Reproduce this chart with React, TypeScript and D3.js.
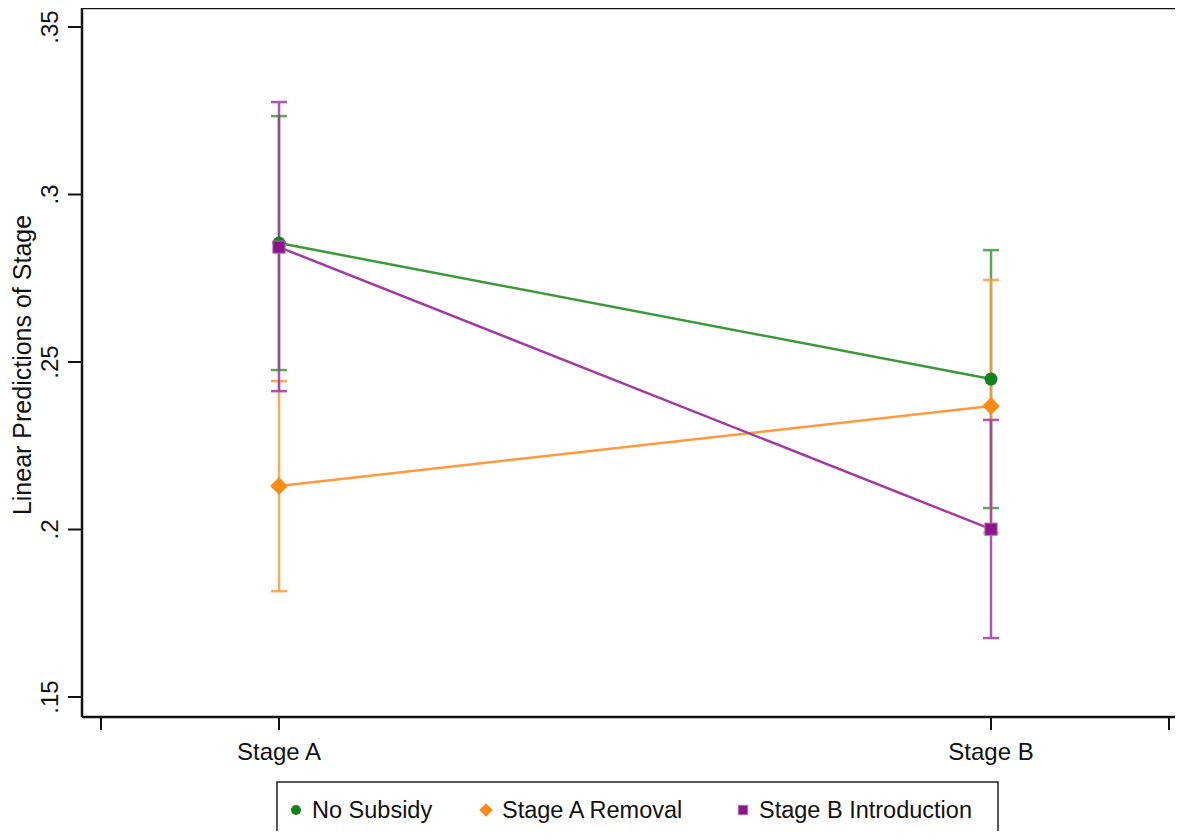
import * as d3 from "d3";
import React, { useEffect, useRef } from "react";

const stages = ["Stage A", "Stage B"];
const seriesNames = ["No Subsidy", "Stage A Removal", "Stage B Introduction"];
const estimates = [
  [0.2855, 0.2449],
  [0.213, 0.2369],
  [0.2843, 0.2001],
];
const ciLower = [
  [0.2476, 0.2064],
  [0.1816, 0.199],
  [0.2413, 0.1676],
];
const ciUpper = [
  [0.3234, 0.2834],
  [0.2443, 0.2745],
  [0.3276, 0.2327],
];
const yTicks = [0.15, 0.2, 0.25, 0.3, 0.35];
const yTickLabels = [".15", ".2", ".25", ".3", ".35"];
const xTicks = [0.75, 1, 2, 2.25];

const lineColors = ["#3a9a3a", "#ff9a3c", "#a23aa2"];
const markerColors = ["#13821a", "#ff8a14", "#8a168a"];
const markerShapes = ["circle", "diamond", "square"];

const FONT = "'Liberation Sans', Arial, sans-serif";

const App = () => {
  const ref = useRef<HTMLDivElement>(null);

  useEffect(() => {
    const width = 1183;
    const height = 839;
    const left = 82;
    const top = 8;
    const bottom = 717;

    const x = d3.scaleLinear().domain([1, 2]).range([279, 991]);
    const y = d3.scaleLinear().domain([0.15, 0.35]).range([697, 27]);

    const svg = d3.create("svg").attr("width", width).attr("height", height)
      .style("display", "block").style("font-family", FONT);

    svg.append("rect").attr("width", width).attr("height", height).attr("fill", "white");

    // plot frame: top and left edges plus x axis
    svg.append("path")
      .attr("d", `M${left},${bottom}V${top}H${width}`)
      .attr("fill", "none").attr("stroke", "#111").attr("stroke-width", 2.5);
    svg.append("line")
      .attr("x1", left).attr("x2", width).attr("y1", bottom).attr("y2", bottom)
      .attr("stroke", "#111").attr("stroke-width", 2.5);

    // y ticks
    yTicks.forEach((t, i) => {
      svg.append("line")
        .attr("x1", left - 14).attr("x2", left).attr("y1", y(t)).attr("y2", y(t))
        .attr("stroke", "#111").attr("stroke-width", 2);
      svg.append("text")
        .attr("transform", `translate(${left - 24},${y(t)}) rotate(-90)`)
        .attr("text-anchor", "middle")
        .style("font-size", "24px").attr("fill", "#111")
        .text(yTickLabels[i]);
    });

    // x ticks
    xTicks.forEach((t) => {
      svg.append("line")
        .attr("x1", x(t)).attr("x2", x(t)).attr("y1", bottom).attr("y2", bottom + 13)
        .attr("stroke", "#111").attr("stroke-width", 2);
    });
    stages.forEach((s, i) => {
      svg.append("text")
        .attr("x", x(i + 1)).attr("y", 760)
        .attr("text-anchor", "middle")
        .style("font-size", "24px").attr("fill", "#111")
        .text(s);
    });

    // y title
    svg.append("text")
      .attr("transform", `translate(31,${y(0.25) + 3}) rotate(-90)`)
      .attr("text-anchor", "middle")
      .style("font-size", "25px").attr("fill", "#111")
      .text("Linear Predictions of Stage");

    const drawMarker = (g: any, shape: string, cx: number, cy: number, color: string, s: number) => {
      if (shape === "circle") {
        g.append("circle").attr("cx", cx).attr("cy", cy).attr("r", s * 0.5)
          .attr("fill", color);
      } else if (shape === "diamond") {
        const r = s * 0.68;
        g.append("path")
          .attr("d", `M${cx},${cy - r}L${cx + r},${cy}L${cx},${cy + r}L${cx - r},${cy}Z`)
          .attr("fill", color);
      } else {
        const h = s * 0.47;
        g.append("rect").attr("x", cx - h).attr("y", cy - h)
          .attr("width", h * 2).attr("height", h * 2)
          .attr("fill", color).attr("stroke", "#b070b0").attr("stroke-width", 1);
      }
    };

    // CI bars
    seriesNames.forEach((_, si) => {
      const g = svg.append("g").attr("opacity", 0.85);
      stages.forEach((_, i) => {
        const cx = x(i + 1);
        g.append("line")
          .attr("x1", cx).attr("x2", cx)
          .attr("y1", y(ciLower[si][i])).attr("y2", y(ciUpper[si][i]))
          .attr("stroke", lineColors[si]).attr("stroke-width", 2.5);
        [ciLower[si][i], ciUpper[si][i]].forEach((v) => {
          g.append("line")
            .attr("x1", cx - 8).attr("x2", cx + 8)
            .attr("y1", y(v)).attr("y2", y(v))
            .attr("stroke", lineColors[si]).attr("stroke-width", 2.5);
        });
      });
    });

    // connecting lines and markers
    const line = d3.line<number>().x((_, i) => x(i + 1)).y((d) => y(d));
    seriesNames.forEach((_, si) => {
      svg.append("path")
        .attr("d", line(estimates[si]))
        .attr("fill", "none").attr("stroke", lineColors[si]).attr("stroke-width", 2.5);
    });
    seriesNames.forEach((_, si) => {
      estimates[si].forEach((v, i) => {
        drawMarker(svg, markerShapes[si], x(i + 1), y(v), markerColors[si], 13);
      });
    });

    // legend
    const lg = svg.append("g");
    lg.append("rect")
      .attr("x", 277).attr("y", 782).attr("width", 721).attr("height", 55)
      .attr("fill", "white").attr("stroke", "#222").attr("stroke-width", 1.5);
    const legendX = [296, 486, 743];
    seriesNames.forEach((name, si) => {
      drawMarker(lg, markerShapes[si], legendX[si], 810, markerColors[si], 10);
      lg.append("text")
        .attr("x", legendX[si] + 16).attr("y", 818)
        .style("font-size", "23.5px").attr("fill", "#111")
        .text(name);
    });

    if (ref.current) {
      ref.current.innerHTML = "";
      ref.current.appendChild(svg.node()!);
    }
  }, []);

  return <div ref={ref} style={{ margin: -8 }}></div>;
};

export default App;
